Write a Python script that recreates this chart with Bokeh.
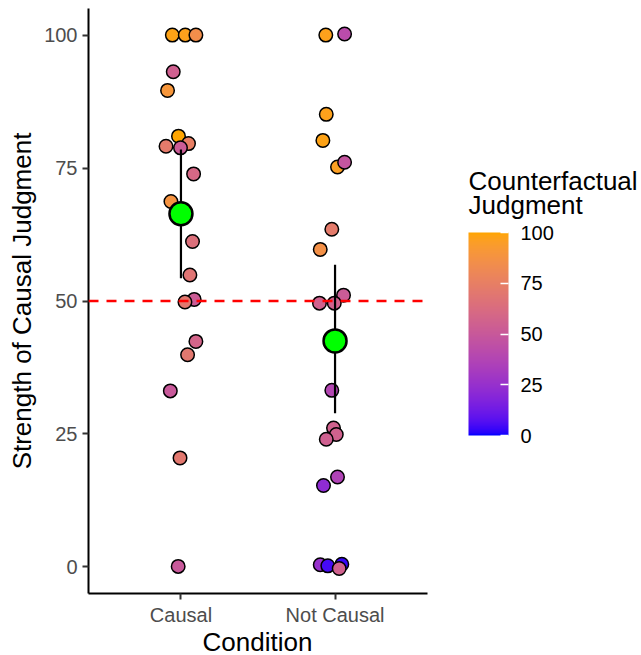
import numpy as np
from bokeh.plotting import figure
from bokeh.models import (ColumnDataSource, LinearColorMapper, ColorBar,
                          FixedTicker, Span)
from bokeh.embed import file_html
from bokeh.resources import INLINE

# ---------------- data ----------------
conditions = ["Causal", "Not Causal"]

causal_strength = [100, 100, 100, 93.1, 89.6, 81.0, 79.6, 79.1, 78.8, 73.9,
                   68.7, 61.2, 54.9, 50.3, 49.8, 42.4, 39.9, 33.1, 20.5, 0.1]
causal_counterfactual = [98, 97, 85, 55, 90, 100, 75, 72, 52, 60,
                         88, 65, 68, 52, 70, 58, 70, 50, 70, 50]
causal_jitter = [-0.056, 0.028, 0.097, -0.050, -0.087, -0.016, 0.049, -0.097,
                 -0.003, 0.082, -0.065, 0.075, 0.058, 0.086, 0.026, 0.097,
                 0.043, -0.069, -0.006, -0.018]

not_causal_strength = [100, 100.2, 85.1, 80.2, 75.2, 76.1, 63.5, 59.7, 51.1,
                       49.6, 49.6, 33.2, 26.1, 24.9, 24.0, 16.9, 15.3, 0.4,
                       0.2, 0.5, -0.3]
not_causal_counterfactual = [97, 42, 97, 98, 96, 48, 72, 86, 52, 56, 56, 38,
                             56, 56, 55, 36, 22, 25, 5, 3, 56]
not_causal_jitter = [-0.060, 0.062, -0.057, -0.079, 0.016, 0.062, -0.021,
                     -0.096, 0.055, -0.101, -0.005, -0.021, -0.010, 0.008,
                     -0.057, 0.016, -0.075, -0.096, -0.047, 0.044, 0.027]

mean_strength = [66.4, 42.5]
ci_low = [54.3, 28.9]
ci_high = [78.5, 56.8]

y_ticks = [0, 25, 50, 75, 100]
legend_ticks = [0, 25, 50, 75, 100]
reference_level = 50
x_title = "Condition"
y_title = "Strength of Causal Judgment"
legend_title = "Counterfactual\nJudgment"

# ---------------- palette: blue -> orange interpolated in Lab ----------------
M = np.array([[0.4124564, 0.3575761, 0.1804375],
              [0.2126729, 0.7151522, 0.0721750],
              [0.0193339, 0.1191920, 0.9503041]])
WN = np.array([0.95047, 1.0, 1.08883])


def rgb_to_lab(rgb):
    c = np.array(rgb, dtype=float) / 255.0
    c = np.where(c <= 0.04045, c / 12.92, ((c + 0.055) / 1.055) ** 2.4)
    t = (M @ c) / WN
    d = 6 / 29
    f = np.where(t > d ** 3, np.cbrt(t), t / (3 * d * d) + 4 / 29)
    return np.array([116 * f[1] - 16, 500 * (f[0] - f[1]), 200 * (f[1] - f[2])])


def lab_to_hex(lab):
    L, a, b = lab
    fy = (L + 16) / 116
    f = np.array([fy + a / 500, fy, fy - b / 200])
    d = 6 / 29
    t = np.where(f > d, f ** 3, 3 * d * d * (f - 4 / 29))
    c = np.linalg.inv(M) @ (t * WN)
    c = np.clip(c, 0, 1)
    c = np.where(c <= 0.0031308, 12.92 * c, 1.055 * c ** (1 / 2.4) - 0.055)
    r, g, bb = (np.clip(np.round(c * 255), 0, 255)).astype(int)
    return "#%02x%02x%02x" % (r, g, bb)


lo_lab = rgb_to_lab((0, 0, 255))
hi_lab = rgb_to_lab((255, 165, 0))
palette = [lab_to_hex(lo_lab + (hi_lab - lo_lab) * k / 255) for k in range(256)]

mapper = LinearColorMapper(palette=palette, low=0, high=100)

# ---------------- sources ----------------
xs = [1 + j for j in causal_jitter] + [2 + j for j in not_causal_jitter]
src = ColumnDataSource(dict(
    x=xs,
    y=causal_strength + not_causal_strength,
    cf=causal_counterfactual + not_causal_counterfactual,
))
summary = ColumnDataSource(dict(
    x=[i + 1 for i in range(len(conditions))],
    m=mean_strength, lo=ci_low, hi=ci_high,
))

FONT = "Liberation Sans"

p = figure(width=641, height=655, x_range=(0.4, 2.6), y_range=(-5, 105),
           output_backend="svg", toolbar_location=None,
           min_border_left=88, min_border_right=214, min_border_top=8,
           min_border_bottom=62)
p.background_fill_color = "white"
p.border_fill_color = "white"
p.outline_line_color = None
p.grid.visible = False

p.scatter(x="x", y="y", source=src, size=13.5,
          fill_color={"field": "cf", "transform": mapper},
          line_color="black", line_width=1.5)

p.add_layout(Span(location=reference_level, dimension="width",
                  line_color="#ff0000", line_width=2.5, line_dash="10 8"))

p.segment(x0="x", y0="lo", x1="x", y1="hi", source=summary,
          line_color="black", line_width=2.2)
p.scatter(x="x", y="m", source=summary, size=23, fill_color="#00ff00",
          line_color="black", line_width=2.5)

# axes
p.xaxis.ticker = FixedTicker(ticks=[i + 1 for i in range(len(conditions))])
p.xaxis.major_label_overrides = {i + 1: c for i, c in enumerate(conditions)}
p.yaxis.ticker = FixedTicker(ticks=y_ticks)
p.yaxis.axis_label = y_title
for ax in (p.xaxis, p.yaxis):
    ax.axis_line_color = "black"
    ax.axis_line_width = 2
    ax.major_tick_line_color = "#333333"
    ax.major_tick_line_width = 2
    ax.major_tick_in = 0
    ax.major_tick_out = 6
    ax.minor_tick_line_color = None
    ax.major_label_text_font = FONT
    ax.major_label_text_font_size = "20px"
    ax.major_label_text_color = "#4d4d4d"
    ax.axis_label_text_font = FONT
    ax.axis_label_text_font_size = "26px"
    ax.axis_label_text_font_style = "normal"
    ax.axis_label_text_color = "black"
p.xaxis.major_label_standoff = 4
p.yaxis.major_label_standoff = 5
p.yaxis.axis_label_standoff = 4


def text_holder(title, loc, bar_width):
    """An invisible horizontal colour bar used only to carry a title text
    outside the plotting frame (annotations of this kind are not clipped)."""
    return ColorBar(color_mapper=mapper, orientation="horizontal",
                    ticker=FixedTicker(ticks=[]), width=bar_width, height=1,
                    location=loc, padding=0, margin=0, scale_alpha=0,
                    title=title, title_text_font=FONT,
                    title_text_font_size="26px",
                    title_text_font_style="normal", title_text_color="black",
                    title_text_line_height=0.8, title_standoff=0,
                    major_label_text_alpha=0, major_tick_line_color=None,
                    minor_tick_line_color=None, bar_line_color=None,
                    background_fill_color=None, border_line_color=None)


# x-axis title under the tick labels
p.add_layout(text_holder(x_title, (114, -64), 110))

# colour bar
cb = ColorBar(color_mapper=mapper, ticker=FixedTicker(ticks=legend_ticks),
              width=40, height=203, location=(380, 158),
              padding=0, margin=0,
              major_label_text_font=FONT, major_label_text_font_size="20px",
              major_label_text_color="black", label_standoff=12,
              major_tick_line_color="white", major_tick_line_width=1.5,
              major_tick_in=8, major_tick_out=0,
              bar_line_color=None, background_fill_color=None,
              border_line_color=None)
p.add_layout(cb)
# colour bar title (two lines)
p.add_layout(text_holder(legend_title, (380, 373), 170))

open("out.html", "w").write(file_html(p, INLINE))
